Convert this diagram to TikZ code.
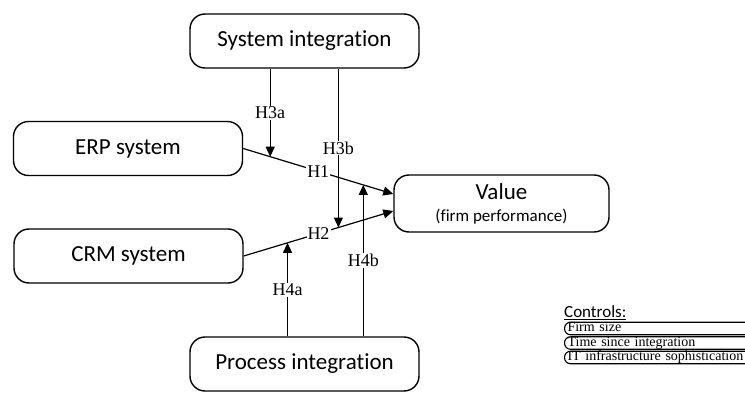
\documentclass[tikz,border=0pt]{standalone}
\usepackage{fontspec}
\setmainfont{Carlito}[Ligatures=NoCommon]
\newfontfamily\hypfont{Liberation Serif}
\usetikzlibrary{positioning,calc,arrows.meta}

\begin{document}
\begin{tikzpicture}[x=1pt,y=1pt,
  box/.style={draw, line width=1.4pt, rounded corners=15pt, minimum width=229pt,
    minimum height=54pt, inner sep=0pt, font=\fontsize{23}{25}\selectfont},
  hyp/.style={fill=white, inner sep=1pt, font=\hypfont\fontsize{18}{18}\selectfont},
  link/.style={-{Triangle[length=10pt,width=9pt]}, line width=1.2pt},
  ctrl/.style={draw, line width=1.1pt, rounded corners=6pt, anchor=west, text width=214pt,
    align=left, inner xsep=3pt, inner ysep=0pt, text height=9.5pt, text depth=3pt,
    font=\hypfont\fontsize{14}{14}\selectfont}]
\useasboundingbox (0,0) rectangle (745,392);
\node[box] (sys) at (304.5,351) {System integration};
\node[box] (erp) at (128,243.5) {ERP system};
\node[box] (crm) at (128.5,136) {CRM system};
\node[box, minimum width=215pt, minimum height=57pt, align=center] (val) at (501.5,188.5)
  {Value\\[-3pt]{\fontsize{17}{18}\selectfont(firm performance)}};
\node[box] (proc) at (304.5,28) {Process integration};
% controls
\node[anchor=west, inner sep=0pt, font=\fontsize{17}{17}\selectfont] (ctl) at (564,79) {\underline{Controls:}};
\foreach \t [count=\i] in {Firm size, Time since integration, IT infrastructure sophistication}
  \node[ctrl] (c\i) at (564,{63.5-14.5*(\i-1)}) {\t};
% main effects
\draw[link] (erp.east) -- coordinate[pos=.18] (m3a) coordinate[pos=.8] (m4b)
  node[hyp] {H1} ([yshift=9.5pt]val.west);
\draw[link] (crm.east) -- coordinate[pos=.633] (m3b) coordinate[pos=.293] (m4a)
  node[hyp] {H2} ([yshift=-7.5pt]val.west);
% moderators
\draw[link] (sys.south -| m3a) -- node[hyp] {H3a} (m3a);
\draw[link] (sys.south -| m3b) -- node[hyp] {H3b} (m3b);
\draw[link] (proc.north -| m4a) -- node[hyp] {H4a} (m4a);
\draw[link] (proc.north -| m4b) -- node[hyp] {H4b} (m4b);
\end{tikzpicture}
\end{document}
